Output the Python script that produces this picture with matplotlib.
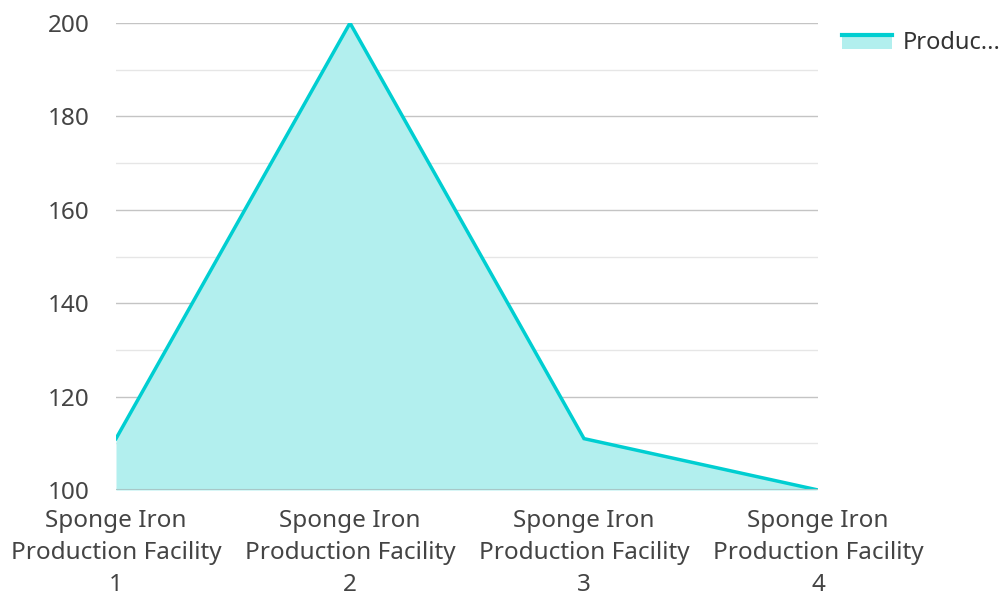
import matplotlib
matplotlib.use("Agg")
from matplotlib import pyplot as plt
from matplotlib.legend_handler import HandlerBase
from matplotlib.patches import Rectangle
from matplotlib.lines import Line2D
from matplotlib.ticker import MultipleLocator

plt.rcParams["font.family"] = ["Noto Sans", "DejaVu Sans"]

categories = ["Sponge Iron\nProduction Facility\n1", "Sponge Iron\nProduction Facility\n2",
              "Sponge Iron\nProduction Facility\n3", "Sponge Iron\nProduction Facility\n4"]
values = [111, 200, 111, 100]
series_name = "Produc..."

line_color = "#00CED1"
fill_color = "#B2EFEE"
text_color = "#444444"
fs = 17.5
legend_fs = 17


class AreaHandler(HandlerBase):
    def create_artists(self, legend, orig_handle, xdescent, ydescent, width, height, fontsize, trans):
        r = Rectangle((-xdescent, -ydescent), width, height, facecolor=fill_color,
                      edgecolor="none", transform=trans)
        l = Line2D([-xdescent, -xdescent + width], [height - ydescent - 1.3] * 2,
                   color=line_color, lw=3, transform=trans)
        return [r, l]


fig = plt.figure(figsize=(10.04, 5.94), dpi=100)
ax = fig.add_axes([116 / 1004, 1 - 490 / 594, (818 - 116) / 1004, (490 - 23) / 594])

x = list(range(len(values)))
ax.fill_between(x, 100, values, color=fill_color, lw=0, zorder=2)
ax.plot(x, values, color=line_color, lw=2.5, zorder=3, solid_joinstyle="miter")

ax.set_xlim(0, len(values) - 1)
ax.set_ylim(100, 200)
ax.yaxis.set_major_locator(MultipleLocator(20))
ax.yaxis.set_minor_locator(MultipleLocator(10))
ax.grid(which="major", axis="y", color="#c4c4c4", lw=1, zorder=1)
ax.grid(which="minor", axis="y", color="#e6e6e6", lw=1, zorder=1)
ax.axhline(100, color="#a8c8c8", lw=1.5, zorder=4)

for s in ax.spines.values():
    s.set_visible(False)

ax.set_xticks(x)
ax.set_xticklabels(categories, fontsize=fs, color=text_color, linespacing=1.45)
ax.tick_params(axis="x", length=0, pad=13.5)
ax.tick_params(axis="y", which="both", length=0, pad=19, labelsize=fs, labelcolor=text_color)

handle = Rectangle((0, 0), 1, 1)
fig.legend([handle], [series_name], handler_map={Rectangle: AreaHandler()},
           loc="upper left", bbox_to_anchor=(821 / 1004, 1 - 10 / 594), frameon=False,
           fontsize=legend_fs, labelcolor="#333333", handlelength=2.12, handleheight=0.64,
           handletextpad=0.45)

fig.savefig("out.png", dpi=100)
